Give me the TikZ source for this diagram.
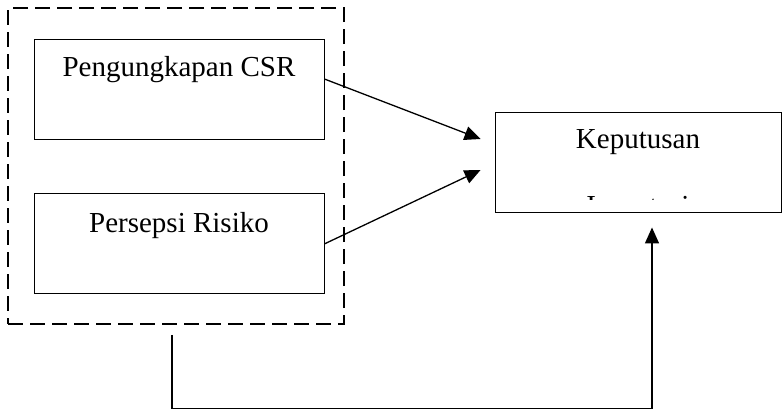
\documentclass[tikz,border=0pt]{standalone}
\usepackage{fontspec}
\setmainfont{Liberation Serif}
\usetikzlibrary{arrows.meta,positioning}

\begin{document}
\begin{tikzpicture}[x=1pt,y=-1pt,line width=1.3pt,>={Triangle[length=16pt,width=14pt]},
		box/.style={draw,line width=0.9pt,minimum width=290pt,minimum height=100pt,inner sep=0pt},
		lbl/.style={anchor=base,inner sep=0pt,font=\fontsize{29}{34}\selectfont},
		grp/.style={draw,line width=1.6pt,dash pattern=on 15pt off 7pt,minimum width=336pt,minimum height=316pt}]
	\useasboundingbox (0,0) rectangle (782,410);
	\node[box] (csr) at (179,89) {};
	\node[box,below=54pt of csr] (risk) {};
	\node[box,minimum width=286pt] (inv) at (638,162) {};
	\node[grp] (grp) at (176,166) {};
	\node[lbl] (csrtxt) at ([yshift=-38pt]csr.north) {Pengungkapan CSR};
	\node[lbl] (risktxt) at ([yshift=-39pt]risk.north) {Persepsi Risiko};
	\node[lbl] (invtxt) at ([yshift=-37pt]inv.north) {Keputusan};
	\begin{scope}
		\clip (inv.north west) rectangle ([yshift=-88pt]inv.north east);
		\node[lbl] (invtxt2) at ([yshift=-104pt]inv.north) {Investasi};
	\end{scope}
	\draw[->] ([yshift=10pt]csr.east) -- ([xshift=-14pt,yshift=23pt]inv.west);
	\draw[->] (risk.east) -- ([xshift=-14pt,yshift=-8pt]inv.west);
	\draw[->] ([xshift=-4pt,yshift=-10pt]grp.south) -- ++(0,74) -| ([xshift=14pt,yshift=-15pt]inv.south);
\end{tikzpicture}
\end{document}
